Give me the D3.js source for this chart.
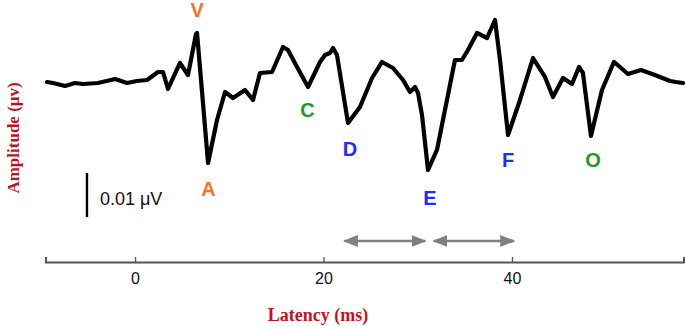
<!DOCTYPE html>
<html>
<head>
<meta charset="utf-8">
<script src="https://cdn.jsdelivr.net/npm/d3@7"></script>
<style>
  body { margin: 0; background: #fff; }
  svg { display: block; }
</style>
</head>
<body>
<div id="chart"></div>
<script>
// waveform: latency (ms) and amplitude (uV)
var latency = [-9.34, -8.70, -7.43, -6.37, -5.52, -3.93, -2.12, -0.85, 0.21, 1.27, 2.44, 2.97, 3.50, 4.77, 5.62, 6.47, 6.58,
  7.75, 8.70, 9.55, 10.40, 11.67, 12.52, 13.26, 14.54, 15.70, 16.23, 17.19, 18.36, 19.63, 20.16, 20.69, 21.01, 21.43,
  22.60, 23.87, 25.15, 26.21, 27.37, 28.44, 29.18, 29.71, 30.03, 30.45, 31.09, 32.04, 33.10, 33.95, 34.69, 35.33,
  36.29, 37.35, 38.20, 38.73, 39.58, 40.85, 42.23, 43.50, 44.35, 45.41, 46.37, 47.11, 47.53, 48.38, 49.55, 50.82,
  51.46, 52.31, 53.69, 55.17, 56.76, 57.40, 58.14];
var amplitude = [0, -0.00023, -0.00091, -0.00023, -0.00045, -0.00023, 0.00068, -0.00023, 0.00023, 0.00045, 0.00227, 0.00227, -0.00159, 0.00432, 0.00159, 0.01091, 0.01114,
  -0.01841, -0.00864, -0.00227, -0.00364, -0.00182, -0.00409, 0.00205, 0.00227, 0.00795, 0.00727, 0.00341, -0.00114, 0.00455, 0.00614, 0.00659, 0.00773, 0.00614,
  -0.00932, -0.00568, 0.00091, 0.00455, 0.00318, 0.00045, -0.00227, -0.00114, -0.00250, -0.00750, -0.02000, -0.01545, -0.00409, 0.00500, 0.00500, 0.00727,
  0.01114, 0.01000, 0.01409, 0.00500, -0.01205, -0.00409, 0.00545, 0.00114, -0.00341, 0.00091, -0.00045, 0.00341, 0.00205, -0.01227, -0.00182, 0.00455,
  0.00341, 0.00182, 0.00273, 0.00159, 0.00023, 0, -0.00023];

// peak labels
var peakNames = ['V', 'A', 'C', 'D', 'E', 'F', 'O'];
var peakLatency = [6.6, 7.8, 18.3, 22.8, 31.3, 39.6, 48.6];
var peakAmplitude = [0.0164, -0.0243, -0.0064, -0.0152, -0.0264, -0.0177, -0.0177];
var peakColors = ['#ff6f1f', '#ff6f1f', '#22992a', '#1f2df0', '#1f2df0', '#1f2df0', '#22992a'];

// interval arrows (ms)
var arrowStart = [22.1, 31.6];
var arrowEnd = [30.9, 40.3];

var xTicks = [0, 20, 40];
var scaleBarValue = 0.01;

var width = 685, height = 326;
var axisY = 262;

var svg = d3.select('#chart').append('svg')
    .attr('width', width)
    .attr('height', height);

var x = d3.scaleLinear().domain([-9.5, 58.2]).range([45.5, 683.5]);
var y = d3.scaleLinear().domain([-0.032, 0.016]).range([222.8, 11.6]);

// arrowhead marker
var defs = svg.append('defs');
defs.append('marker')
    .attr('id', 'head')
    .attr('viewBox', '0 0 10 10')
    .attr('refX', 9).attr('refY', 5)
    .attr('markerWidth', 5.8).attr('markerHeight', 4.6)
    .attr('markerUnits', 'strokeWidth')
    .attr('orient', 'auto-start-reverse')
    .attr('preserveAspectRatio', 'none')
    .append('path')
    .attr('d', 'M0,0 L10,5 L0,10 Z')
    .attr('fill', '#7f7f7f');

// x axis
var xAxis = d3.axisTop(x).tickValues(xTicks).tickSize(5).tickFormat(d3.format('d'));
var ax = svg.append('g')
    .attr('transform', 'translate(0,' + axisY + ')')
    .call(xAxis);
ax.select('.domain').attr('stroke', '#555').attr('stroke-width', 2);
ax.selectAll('.tick line').attr('stroke', '#555').attr('stroke-width', 1.3);
ax.selectAll('.tick text')
    .attr('y', 16)
    .attr('dy', '0.35em')
    .style('font-family', 'Arial, "Liberation Sans", sans-serif')
    .style('font-size', '16px')
    .attr('fill', '#111');

// waveform
var line = d3.line()
    .x(function(d, i) { return x(latency[i]); })
    .y(function(d, i) { return y(amplitude[i]); });

svg.append('path')
    .datum(latency)
    .attr('d', line)
    .attr('fill', 'none')
    .attr('stroke', '#000')
    .attr('stroke-width', 4.2)
    .attr('stroke-linejoin', 'round')
    .attr('stroke-linecap', 'round');

// peak letters
svg.selectAll('.peak')
    .data(peakNames)
    .enter().append('text')
    .attr('class', 'peak')
    .attr('x', function(d, i) { return x(peakLatency[i]); })
    .attr('y', function(d, i) { return y(peakAmplitude[i]); })
    .attr('text-anchor', 'middle')
    .attr('dy', '0.35em')
    .style('font-family', 'Arial, "Liberation Sans", sans-serif')
    .style('font-weight', 'bold')
    .style('font-size', '20px')
    .attr('fill', function(d, i) { return peakColors[i]; })
    .text(function(d) { return d; });

// scale bar
var barX = x(-5.1);
svg.append('line')
    .attr('x1', barX).attr('x2', barX)
    .attr('y1', y(-0.0207)).attr('y2', y(-0.0207 - scaleBarValue))
    .attr('stroke', '#000')
    .attr('stroke-width', 2.4);
svg.append('text')
    .attr('x', barX + 13)
    .attr('y', 205)
    .style('font-family', 'Arial, "Liberation Sans", sans-serif')
    .style('font-size', '18px')
    .attr('fill', '#111')
    .text('0.01 μV');

// interval arrows
svg.selectAll('.arrow')
    .data(arrowStart)
    .enter().append('line')
    .attr('class', 'arrow')
    .attr('x1', function(d, i) { return x(arrowStart[i]) + 1; })
    .attr('x2', function(d, i) { return x(arrowEnd[i]) - 1; })
    .attr('y1', 241).attr('y2', 241)
    .attr('stroke', '#7f7f7f')
    .attr('stroke-width', 2.6)
    .attr('marker-start', 'url(#head)')
    .attr('marker-end', 'url(#head)');

// axis titles
svg.append('text')
    .attr('x', 318)
    .attr('y', 321)
    .attr('text-anchor', 'middle')
    .style('font-family', '"Liberation Serif", "Times New Roman", serif')
    .style('font-weight', 'bold')
    .style('font-size', '18px')
    .attr('fill', '#c0141c')
    .text('Latency (ms)');

svg.append('text')
    .attr('transform', 'translate(19,138) rotate(-90)')
    .attr('text-anchor', 'middle')
    .style('font-family', '"Liberation Serif", "Times New Roman", serif')
    .style('font-weight', 'bold')
    .style('font-size', '17px')
    .attr('fill', '#c0141c')
    .text('Amplitude  (μv)');
</script>
</body>
</html>
